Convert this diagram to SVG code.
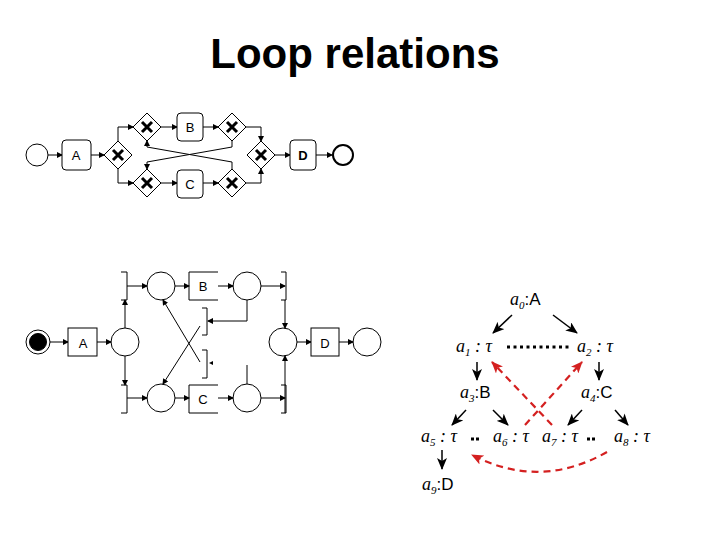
<svg xmlns="http://www.w3.org/2000/svg" width="720" height="540" viewBox="0 0 720 540">
<style>
.ln{fill:none;stroke:#000;stroke-width:1}
.bx{fill:#fff;stroke:#000;stroke-width:1}
.t{font-family:"Liberation Sans",Arial,sans-serif;font-size:13px;text-anchor:middle}
.m{font-family:"Liberation Serif","Times New Roman",serif;font-style:italic;font-size:18px}
.g{font-family:"Liberation Sans",Arial,sans-serif;font-size:17px}
.s{font-size:11px}
.bk{fill:none;stroke:#000;stroke-width:1.5;marker-end:url(#ab)}
.rd{fill:none;stroke:#d42020;stroke-width:2.2;stroke-dasharray:7,5;marker-end:url(#ar)}
</style>
<defs>
<marker id="a" markerWidth="6" markerHeight="6" refX="5" refY="3" orient="auto" markerUnits="userSpaceOnUse"><path d="M0,0L6,3L0,6z"/></marker>
<marker id="ab" markerWidth="12" markerHeight="10" refX="11" refY="5" orient="auto" markerUnits="userSpaceOnUse"><path d="M0,0L12,5L0,10L3,5z"/></marker>
<marker id="ar" markerWidth="12" markerHeight="10" refX="11" refY="5" orient="auto" markerUnits="userSpaceOnUse"><path d="M0,0L12,5L0,10L3,5z" fill="#d42020"/></marker>
<g id="gw"><path d="M0,-14L14,0L0,14L-14,0z" fill="#fff" stroke="#000"/><path d="M-5,-5L5,5M5,-5L-5,5" stroke="#000" stroke-width="3"/></g>
</defs>
<text x="355" y="68" text-anchor="middle" font-family="Liberation Sans,Arial,sans-serif" font-size="42" font-weight="bold">Loop relations</text>

<g id="bpmn-edges" class="ln" marker-end="url(#a)">
<path d="M48,155H62"/><path d="M91,155H104"/>
<path d="M118,141V127H133"/><path d="M118,169V183H133"/>
<path d="M161,127H177"/><path d="M161,183H177"/>
<path d="M203,127H218"/><path d="M203,183H218"/>
<path d="M246,127H261V141"/><path d="M246,183H261V169"/>
<path d="M275,155H290"/><path d="M316,155H332"/>
<path d="M232,141V147L147,162V169"/><path d="M232,169V162L147,147V141"/>
</g>
<g id="bpmn-nodes">
<circle cx="37" cy="155" r="11" class="bx"/>
<rect x="62" y="140" width="29" height="30" rx="4" class="bx"/><text x="76" y="160" class="t">A</text>
<use href="#gw" x="118" y="155"/>
<use href="#gw" x="147" y="127"/><use href="#gw" x="147" y="183"/>
<rect x="177" y="113" width="26" height="28" rx="4" class="bx"/><text x="190" y="132" class="t">B</text>
<rect x="177" y="170" width="26" height="28" rx="4" class="bx"/><text x="190" y="189" class="t">C</text>
<use href="#gw" x="232" y="127"/><use href="#gw" x="232" y="183"/>
<use href="#gw" x="261" y="155"/>
<rect x="290" y="140" width="26" height="30" rx="4" class="bx"/><text x="303" y="160" class="t" font-weight="bold">D</text>
<circle cx="343" cy="155" r="10" fill="#fff" stroke="#000" stroke-width="2"/>
</g>

<g id="pn-edges" class="ln" marker-end="url(#a)">
<path d="M50,342H68"/><path d="M97,342H111"/>
<path d="M125,328V300"/><path d="M125,356V385"/>
<path d="M127,286H147"/><path d="M127,398H147"/>
<path d="M175,286H189"/><path d="M175,398H189"/>
<path d="M218,286H233"/><path d="M218,398H233"/>
<path d="M261,286H285"/><path d="M261,398H285"/>
<path d="M247,300V321H208"/>
<path d="M200,326L163,384"/><path d="M200,362L163,300"/>
<path d="M285,300V328"/><path d="M285,413V356"/>
<path d="M297,342H311"/><path d="M339,342H353"/>
</g>
<path class="ln" d="M247,384V365"/>
<path d="M209,363l4,-2v4z"/>
<g id="pn-nodes" class="ln">
<circle cx="38" cy="342" r="12"/><circle cx="38" cy="342" r="8.5" fill="#000"/>
<rect x="68" y="328" width="29" height="28" class="bx"/><text x="83" y="348" class="t" stroke="none" fill="#000">A</text>
<circle cx="125" cy="342" r="14"/>
<path d="M121,272H127V300H121"/><path d="M121,385H127V413H121"/>
<circle cx="161" cy="286" r="14"/><circle cx="161" cy="398" r="14"/>
<path d="M218,272H189V300H218"/><text x="203" y="291" class="t" stroke="none" fill="#000">B</text>
<path d="M218,385H189V413H218"/><text x="203" y="404" class="t" stroke="none" fill="#000">C</text>
<circle cx="247" cy="286" r="14"/><circle cx="247" cy="398" r="14"/>
<path d="M281,272H286V300H281"/><path d="M281,385H286V413H281"/>
<path d="M202,308H207V335H202"/><path d="M202,350H207V378H202"/>
<circle cx="283" cy="342" r="14"/>
<rect x="311" y="328" width="28" height="28" class="bx"/><text x="325" y="348" class="t" stroke="none" fill="#000">D</text>
<circle cx="367" cy="342" r="14"/>
</g>

<g id="graph-nodes">
<text x="510" y="305"><tspan class="m">a</tspan><tspan class="m s" dy="4">0</tspan><tspan class="g" dy="-4">:A</tspan></text>
<text x="456" y="352"><tspan class="m">a</tspan><tspan class="m s" dy="4">1</tspan><tspan class="m" dy="-4"> : τ</tspan></text>
<text x="577" y="352"><tspan class="m">a</tspan><tspan class="m s" dy="4">2</tspan><tspan class="m" dy="-4"> : τ</tspan></text>
<text x="460" y="398"><tspan class="m">a</tspan><tspan class="m s" dy="4">3</tspan><tspan class="g" dy="-4">:B</tspan></text>
<text x="581" y="398"><tspan class="m">a</tspan><tspan class="m s" dy="4">4</tspan><tspan class="g" dy="-4">:C</tspan></text>
<text x="421" y="442"><tspan class="m">a</tspan><tspan class="m s" dy="4">5</tspan><tspan class="m" dy="-4"> : τ</tspan></text>
<text x="493" y="442"><tspan class="m">a</tspan><tspan class="m s" dy="4">6</tspan><tspan class="m" dy="-4"> : τ</tspan></text>
<text x="542" y="442"><tspan class="m">a</tspan><tspan class="m s" dy="4">7</tspan><tspan class="m" dy="-4"> : τ</tspan></text>
<text x="614" y="442"><tspan class="m">a</tspan><tspan class="m s" dy="4">8</tspan><tspan class="m" dy="-4"> : τ</tspan></text>
<text x="422" y="490"><tspan class="m">a</tspan><tspan class="m s" dy="4">9</tspan><tspan class="g" dy="-4">:D</tspan></text>
</g>
<g id="graph-edges">
<path d="M507,347H572" stroke="#000" stroke-width="3" stroke-dasharray="3,3.5"/>
<path d="M471,439H479M587,439H595" stroke="#000" stroke-width="3" stroke-dasharray="3,2"/>
<path class="bk" d="M512,315L493,333"/><path class="bk" d="M553,315L577,333"/>
<path class="bk" d="M477,362V380"/><path class="bk" d="M599,362V380"/>
<path class="bk" d="M466,410L452,425"/><path class="bk" d="M493,410L508,425"/>
<path class="bk" d="M582,410L568,425"/><path class="bk" d="M615,410L628,425"/>
<path class="bk" d="M442,450V469"/>
<path class="rd" d="M552,425L492,362"/><path class="rd" d="M525,425L582,362"/>
<path class="rd" d="M607,452Q540,490 472,455"/>
</g>
</svg>
